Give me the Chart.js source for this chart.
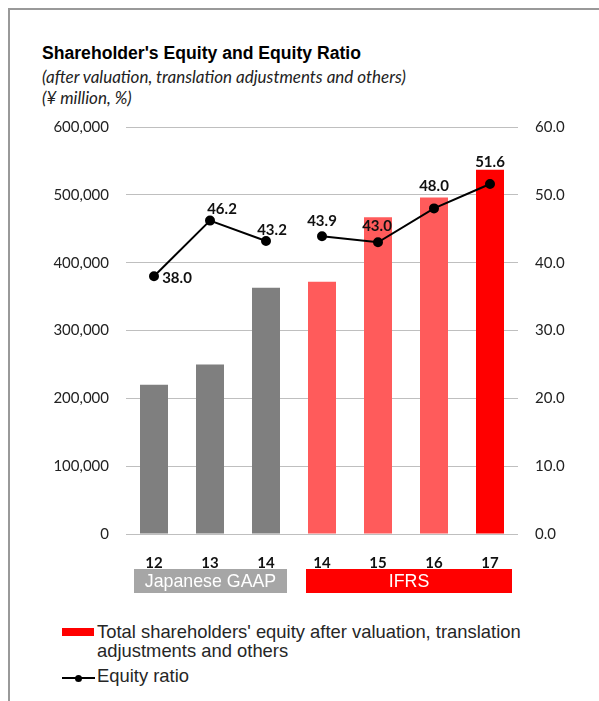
<!DOCTYPE html>
<html>
<head>
<meta charset="utf-8">
<script src="https://cdn.jsdelivr.net/npm/chart.js@4"></script>
<style>
  body { margin: 0; background: #fff; width: 599px; height: 701px; position: relative; overflow: hidden; }
  #frame { position: absolute; left: 8px; top: 8px; width: 600px; height: 700px; border-left: 2px solid #999; border-top: 2px solid #999; }
  .t { position: absolute; left: 42px; white-space: nowrap; color: #000; }
  #title { top: 43px; font: bold 17.6px "Liberation Sans", Arial, sans-serif; }
  #sub1 { top: 66px; font: italic 17px Lato, sans-serif; color: #222; }
  #sub2 { top: 87px; font: italic 17px Lato, sans-serif; color: #222; }
  #wrap { position: absolute; left: 0; top: 100px; width: 599px; height: 510px; }
  #legend { position: absolute; left: 0; top: 0; font: 18.4px "Liberation Sans", Arial, sans-serif; color: #262626; }
  .lg { position: absolute; white-space: nowrap; }
</style>
</head>
<body>
<div id="frame"></div>
<div class="t" id="title">Shareholder's Equity and Equity Ratio</div>
<div class="t" id="sub1">(after valuation, translation adjustments and others)</div>
<div class="t" id="sub2">(¥ million, %)</div>
<div id="wrap"><canvas id="chart" width="599" height="510"></canvas></div>
<div id="legend">
  <div class="lg" style="left:62px;top:628px;width:32px;height:8px;background:#ff0000"></div>
  <div class="lg" style="left:97px;top:622px;line-height:19px">Total shareholders' equity after valuation, translation<br>adjustments and others</div>
  <div class="lg" style="left:62px;top:677px;width:33px;height:2px;background:#000"></div>
  <div class="lg" style="left:75px;top:675px;width:7px;height:7px;border-radius:50%;background:#000"></div>
  <div class="lg" style="left:97px;top:666px;line-height:19px">Equity ratio</div>
</div>
<script>
// fiscal years (two 14s: Japanese GAAP and IFRS)
const years = ['12', '13', '14', '14', '15', '16', '17'];
const equity = [220000, 250000, 363000, 372000, 467000, 496000, 537000];
const equityRatio = [38.0, 46.2, 43.2, 43.9, 43.0, 48.0, 51.6];
const leftTicks = [0, 100000, 200000, 300000, 400000, 500000, 600000];
const rightTicks = [0, 10, 20, 30, 40, 50, 60];
const groups = [
  { name: 'Japanese GAAP', from: 0, to: 2 },
  { name: 'IFRS', from: 3, to: 6 }
];

const barColors = ['#7f7f7f', '#7f7f7f', '#7f7f7f', '#ff5b5b', '#ff5b5b', '#ff5b5b', '#ff0000'];
// label offset from point (dx, dy)
const labelPos = [[23, 2], [12, -11], [6, -11], [0, -15], [-1, -16], [0, -22], [0, -22]];
const tickFont = { family: 'Lato', size: 15 };

// ratio value labels
const ratioLabels = {
  id: 'ratioLabels',
  afterDatasetsDraw(chart) {
    const ctx = chart.ctx;
    const meta = chart.getDatasetMeta(1);
    ctx.save();
    ctx.font = 'bold 15px Lato';
    ctx.fillStyle = '#111';
    ctx.textAlign = 'center';
    ctx.textBaseline = 'middle';
    meta.data.forEach((pt, i) => {
      ctx.fillText(equityRatio[i].toFixed(1), pt.x + labelPos[i][0], pt.y + labelPos[i][1]);
    });
    ctx.restore();
  }
};

// GAAP / IFRS boxes under the axis
const groupBoxes = {
  id: 'groupBoxes',
  afterDraw(chart) {
    const ctx = chart.ctx;
    const x = chart.scales.x;
    const boxes = [
      { fill: '#a6a6a6', left: x.getPixelForTick(0) - 20, right: x.getPixelForTick(2) + 21 },
      { fill: '#ff0000', left: x.getPixelForTick(3) - 16, right: x.getPixelForTick(6) + 22 }
    ];
    ctx.save();
    groups.forEach((g, i) => {
      const b = boxes[i];
      const top = chart.chartArea.bottom + 35;
      ctx.fillStyle = b.fill;
      ctx.fillRect(b.left, top, b.right - b.left, 24);
      ctx.fillStyle = '#fff';
      ctx.font = '17.8px "Liberation Sans", Arial';
      ctx.textAlign = 'center';
      ctx.textBaseline = 'middle';
      ctx.fillText(g.name, (b.left + b.right) / 2, top + 13);
    });
    ctx.restore();
  }
};

new Chart(document.getElementById('chart'), {
  data: {
    labels: years,
    datasets: [
      {
        type: 'bar',
        label: "Total shareholders' equity after valuation, translation adjustments and others",
        data: equity,
        backgroundColor: barColors,
        yAxisID: 'y',
        order: 1,
        categoryPercentage: 1,
        barPercentage: 0.5
      },
      {
        type: 'line',
        label: 'Equity ratio',
        data: equityRatio,
        borderColor: '#000',
        backgroundColor: '#000',
        borderWidth: 2,
        pointRadius: 4,
        pointBackgroundColor: '#000',
        tension: 0,
        yAxisID: 'y1',
        order: 0,
        segment: {
          // no line between GAAP 14 and IFRS 14
          borderColor: c => c.p0DataIndex === 2 ? 'rgba(0,0,0,0)' : '#000'
        }
      }
    ]
  },
  options: {
    responsive: false,
    animation: false,
    layout: { padding: { top: 27, left: 0, right: 0, bottom: 0 } },
    plugins: { legend: { display: false }, tooltip: { enabled: false } },
    scales: {
      x: {
        grid: { display: false },
        border: { display: false },
        ticks: { font: { family: 'Lato', size: 15, weight: 'bold' }, color: '#111', padding: 12 },
        afterFit: s => { s.height = 76; }
      },
      y: {
        position: 'left',
        min: 0, max: 600000,
        afterBuildTicks: s => { s.ticks = leftTicks.map(v => ({ value: v })); },
        grid: { color: '#bfbfbf', drawTicks: false },
        border: { display: false },
        ticks: {
          font: tickFont, color: '#222', padding: 17,
          callback: v => v.toLocaleString('en-US')
        },
        afterFit: s => { s.width = 126; }
      },
      y1: {
        position: 'right',
        min: 0, max: 60,
        afterBuildTicks: s => { s.ticks = rightTicks.map(v => ({ value: v })); },
        grid: { display: false, drawTicks: false },
        border: { display: false },
        ticks: {
          font: tickFont, color: '#222', padding: 17,
          callback: v => v.toFixed(1)
        },
        afterFit: s => { s.width = 81; }
      }
    }
  },
  plugins: [ratioLabels, groupBoxes]
});
</script>
</body>
</html>
